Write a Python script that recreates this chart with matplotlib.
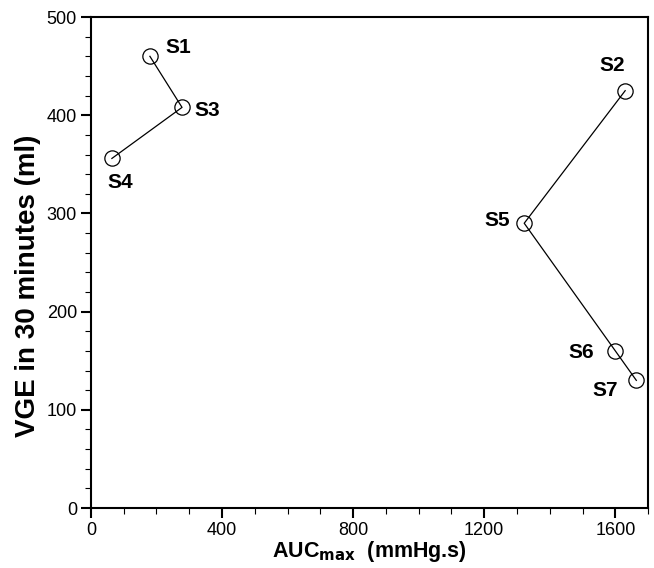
import matplotlib
matplotlib.use('Agg')
import matplotlib.pyplot as plt
from matplotlib.ticker import MultipleLocator

plt.rcParams['font.family'] = ['Liberation Sans', 'DejaVu Sans']

# subject groups (joined by lines)
group_a_names = ['S1', 'S3', 'S4']
group_a_auc = [180, 278, 64]
group_a_vge = [460, 408, 356]

group_b_names = ['S2', 'S5', 'S6', 'S7']
group_b_auc = [1630, 1322, 1600, 1664]
group_b_vge = [425, 290, 160, 130]

# label offsets in points
offsets = {'S1': (11, 6), 'S3': (9, -2), 'S4': (-3, -17), 'S2': (-9, 18),
           'S5': (-10, 2), 'S6': (-15, -1), 'S7': (-13, -7)}
aligns = {'S1': 'left', 'S3': 'left', 'S4': 'left', 'S2': 'center',
          'S5': 'right', 'S6': 'right', 'S7': 'right'}

fig = plt.figure(figsize=(6.54, 5.68), dpi=100)
ax = fig.add_axes([0.139, 0.1056, 0.852, 0.8644])

for xs, ys, names in [(group_a_auc, group_a_vge, group_a_names),
                      (group_b_auc, group_b_vge, group_b_names)]:
    ax.plot(xs, ys, color='black', lw=0.9, marker='o', ms=11,
            mfc='none', mec='black', mew=0.9)
    for x, y, n in zip(xs, ys, names):
        ax.annotate(n, (x, y), xytext=offsets[n], textcoords='offset points',
                    ha=aligns[n], va='center', fontsize=15, fontweight='bold')

ax.set_xlim(0, 1700)
ax.set_ylim(0, 500)
ax.xaxis.set_major_locator(MultipleLocator(400))
ax.xaxis.set_minor_locator(MultipleLocator(100))
ax.yaxis.set_major_locator(MultipleLocator(100))
ax.yaxis.set_minor_locator(MultipleLocator(20))
ax.tick_params(which='major', direction='out', length=7, width=1.5, labelsize=13, pad=3)
ax.tick_params(which='minor', direction='out', length=4, width=0.8)
for s in ax.spines.values():
    s.set_linewidth(1.5)

ax.set_xlabel(r'AUC$_{\mathbf{max}}$  (mmHg.s)', fontsize=15.5, fontweight='bold', labelpad=0)
ax.set_ylabel('VGE in 30 minutes (ml)', fontsize=20, fontweight='bold')
ax.yaxis.set_label_coords(-0.09, 0.452)

fig.savefig('out.png', dpi=100)
